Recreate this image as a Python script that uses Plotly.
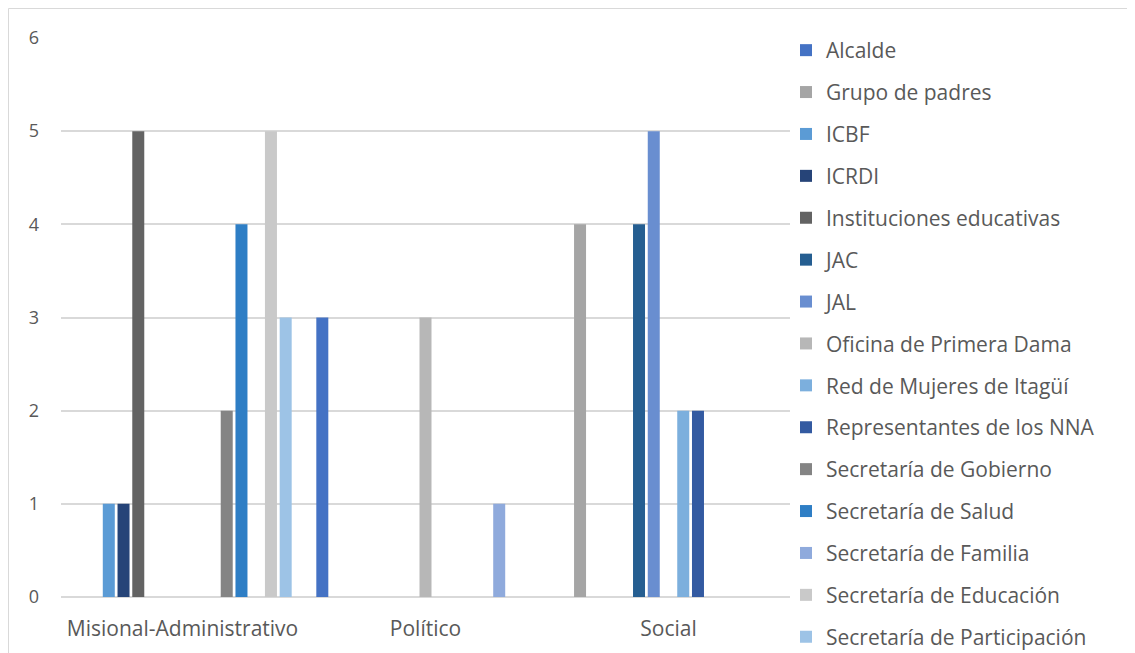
import plotly.graph_objects as go

categories = ["Misional-Administrativo", "Político", "Social"]
series_names = [
    "Alcalde", "Grupo de padres", "ICBF", "ICRDI", "Instituciones educativas",
    "JAC", "JAL", "Oficina de Primera Dama", "Red de Mujeres de Itagüí",
    "Representantes de los NNA", "Secretaría de Gobierno", "Secretaría de Salud",
    "Secretaría de Familia", "Secretaría de Educación", "Secretaría de Participación",
]
alcalde = [None, 3, None]
grupo_padres = [None, None, 4]
icbf = [1, None, None]
icrdi = [1, None, None]
instituciones = [5, None, None]
jac = [None, None, 4]
jal = [None, None, 5]
oficina = [None, 3, None]
red_mujeres = [None, None, 2]
representantes = [None, None, 2]
gobierno = [2, None, None]
salud = [4, None, None]
familia = [None, 1, None]
educacion = [5, None, None]
participacion = [3, None, None]
series_values = [alcalde, grupo_padres, icbf, icrdi, instituciones, jac, jal, oficina,
                 red_mujeres, representantes, gobierno, salud, familia, educacion, participacion]
colors = ["#4472C4", "#A5A5A5", "#5B9BD5", "#264478", "#636363", "#255E91", "#698ED0",
          "#B7B7B7", "#7CAFDD", "#335AA1", "#848484", "#2E7EC5", "#8FAADC", "#C9C9C9", "#9DC3E6"]
y_ticks = [0, 1, 2, 3, 4, 5, 6]

FONT = "Open Sans"
fig = go.Figure()
for i, (name, vals, col) in enumerate(zip(series_names, series_values, colors)):
    fig.add_trace(go.Bar(x=categories, y=vals, name=name, marker_color=col,
                         marker_line_width=0, legendgroup=f"g{i}"))

# page has an 8px body margin: figure coords = screen coords - 8
W, H = 1135, 653
L, R, T, B = 53, 353, 30, 64
pw, ph = W - L - R, H - T - B
fig.update_layout(
    width=W, height=H,
    margin=dict(l=L, r=R, t=T, b=B, autoexpand=False),
    barmode="group", bargap=0.09, bargroupgap=0.186,
    plot_bgcolor="white", paper_bgcolor="white",
    font=dict(family=FONT, color="#595959", size=18),
    legend=dict(x=(778 - L) / pw, xanchor="left", y=1 + (T - 22) / ph, yanchor="top",
                font=dict(size=21, color="#595959"), tracegroupgap=11.6,
                itemwidth=30, bgcolor="rgba(0,0,0,0)", maxheight=1.0),
    xaxis=dict(showgrid=False, ticks="", showline=False, tickfont=dict(size=21),
               ticklabelstandoff=17, automargin=False),
    yaxis=dict(range=[0, 6], tickvals=y_ticks, showgrid=True, gridcolor="#D9D9D9",
               gridwidth=1.5, zeroline=True, zerolinecolor="#D9D9D9", zerolinewidth=1.5,
               ticks="", tickfont=dict(size=18), ticklabelstandoff=21, showline=False,
               automargin=False),
    shapes=[dict(type="rect", xref="paper", yref="paper",
                 x0=(0.5 - L) / pw, x1=(W + 20 - L) / pw,
                 y0=-(H + 20 - T - ph) / ph, y1=1 + (T - 0.5) / ph,
                 line=dict(color="#D9D9D9", width=1), fillcolor="rgba(0,0,0,0)", layer="below")],
)
fig.write_html("out.html")
